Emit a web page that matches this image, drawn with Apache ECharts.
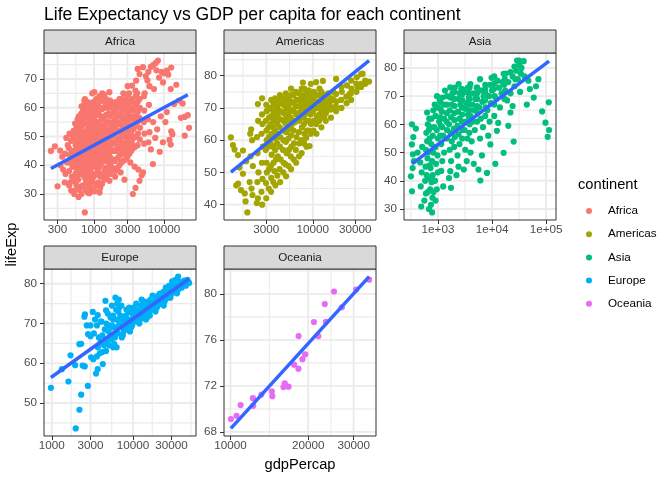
<!DOCTYPE html>
<html>
<head>
<meta charset="utf-8">
<script src="https://cdn.jsdelivr.net/npm/echarts@6/dist/echarts.min.js"></script>
<style>html,body{margin:0;padding:0;background:#fff}#chart{width:672px;height:480px}</style>
</head>
<body>
<div id="chart"></div>
<script>
var FONT = 'Liberation Sans';

var continents = ['Africa', 'Americas', 'Asia', 'Europe', 'Oceania'];
var colors = ['#F8766D', '#A3A500', '#00BF7D', '#00B0F6', '#E76BF3'];

// [gdpPercap, lifeExp]
var africa = [
  [241,45.0],[275,46.6],[327,45.1],[300,32.7],[360,38.5],[737,23.6],[855,30.3],[470,31.2],[440,33.0],[520,30.0],
  [3590,30.0],[3915,32.1],[2720,35.0],[4470,34.6],[5010,37.5],[6950,40.4],[8700,44.7],[4800,36.5],[4300,38.5],[3800,39.5],[3300,41.0],[2400,37.5],[2000,36.0],[1660,34.6],[1067,33.5],
  [21951,57.4],[19800,56.8],[17500,56.5],[22900,53.0],[19800,50.3],[12700,51.8],[13200,50.8],[12000,48.8],[9660,48.0],[12500,47.2],[14000,61.3],[16500,62.5],[18500,61.5],[11000,58.5],[9000,57.0],[7500,49.5],[6500,45.5],[8000,52.5],[7000,55.0],[10500,55.0],[6200,51.5],
  [8200,76.4],[7600,75.5],[7000,74.8],[6500,74.2],[7800,73.0],[12700,74.0],[11000,72.9],[10000,72.0],[11500,71.5],[9700,68.8],[12500,66.5],[6000,72.5],[5500,71.0],[5000,74.1],[4470,71.7],[5800,69.5],[6200,67.5],[7200,66.5],[8500,70.5],[9200,72.5],[4000,69.4],[3500,67.7],[5300,65.0],[15000,68.0],[4200,73.5],
  [1010,65.4],[1655,65.4],[725,62.5],[1400,64.5],[380,34],[330,40],[350,43],[600,29],[660,30],[1200,30.5],
  [390,37],[410,41],[385,44],[420,47],[400,49.5],
  [455,34],[440,38],[465,41],[450,43.5],[435,46],[470,48.5],[445,51],
  [480,36],[490,39.5],[485,42],[475,45],[495,50],
  [525,31],[505,34.5],[540,37],[515,40],[530,42],[500,44.5],[545,47],[520,49],[510,52],[535,54.5],
  [560,33],[570,36],[555,39],[565,41.5],[575,44],[560,46],[550,48.5],[570,51],[560,53.5],[580,56],
  [610,31.5],[590,35],[620,38],[600,40.5],[580,43],[630,45],[595,47.5],[615,50],[585,52.5],[625,55],[605,57],
  [650,32.5],[660,37],[640,40],[655,42],[665,44],[645,46.5],[660,48.5],[650,51],[640,53],[670,55.5],[655,58],[660,60.5],
  [690,33],[720,36],[700,39],[680,41.5],[730,43],[710,45.5],[690,47],[725,49],[700,51.5],[680,54],[715,56.5],[695,59],[720,61],
  [750,31.5],[760,35],[745,38],[755,41],[765,43.5],[740,45],[760,47.5],[750,50],[770,52],[745,54.5],[760,57],[750,60],[740,63],
  [810,30.5],[790,34],[820,37.5],[800,40],[780,42],[830,44],[805,46],[790,48],[815,50],[800,52.5],[825,55],[785,58],[810,62],
  [850,33],[860,36.5],[845,39],[855,41.5],[870,43],[840,45],[860,47],[850,49],[865,51.5],[845,54],[860,56.5],[855,59],[870,61.5],
  [900,32],[920,35],[890,38.5],[910,41],[930,43.5],[880,45.5],[905,47.5],[925,49.5],[895,52],[915,54.5],[935,57],[890,60],[940,65],
  [950,31],[960,34],[945,37],[955,40],[965,42.5],[940,44.5],[960,46.5],[950,48.5],[970,51],[945,53],[960,55.5],[955,58.5],[970,62],
  [1010,31],[990,36],[1020,39.5],[1000,42],[980,44],[1030,46.5],[1005,48.5],[990,51],[1015,53.5],[1000,56],[1025,59],[985,61.5],
  [1080,33],[1090,37],[1070,40.5],[1085,43],[1100,45.5],[1075,47.5],[1090,50],[1080,52.5],[1060,55],[1095,57.5],[1080,60],[1070,63],
  [1150,34],[1130,38],[1170,41],[1140,43.5],[1160,45],[1180,47],[1150,49.5],[1135,52],[1170,55],[1155,58],[1140,61],[1190,64],
  [1220,32],[1230,36],[1210,39.5],[1240,42],[1225,44.5],[1215,47],[1235,49],[1220,51.5],[1210,54],[1240,57],[1225,60],[1230,63],
  [1300,33.5],[1320,37],[1280,40.5],[1310,43],[1290,46],[1330,48],[1300,50.5],[1270,53],[1320,56],[1300,59.5],[1280,62.5],[1310,65],
  [1400,35],[1410,38],[1390,41.5],[1420,44],[1400,46.5],[1380,49],[1410,51.5],[1400,54],[1420,57],[1390,60],[1410,62],
  [1500,36],[1480,39],[1520,42.5],[1490,45],[1530,47.5],[1500,50],[1470,52.5],[1520,55],[1500,57.5],[1540,60],[1490,63],
  [1600,38],[1620,41],[1590,44],[1610,46.5],[1600,49],[1630,52],[1590,55],[1610,58],[1600,61],
  [1700,37],[1720,40],[1680,43],[1710,46],[1690,48.5],[1730,51],[1700,54],[1680,57],[1720,60],[1700,62.5],
  [1850,39],[1870,42],[1840,45],[1860,47.5],[1850,50],[1830,52.5],[1860,55],[1850,58],[1870,61],
  [2000,38],[1980,41.5],[2030,45],[2010,48],[1990,51],[2020,53.5],[2000,56],[1970,59],[2040,62],
  [2150,39],[2170,42.5],[2140,46],[2160,49],[2150,52],[2180,54.5],[2140,57],[2160,60],
  [2300,40],[2320,43.5],[2280,46.5],[2310,49.5],[2290,52],[2330,55],[2300,58],[2270,61],[2310,63],
  [2450,41],[2470,45],[2440,48],[2460,51],[2450,54],[2480,57],[2440,60],[2460,63],
  [2600,41.5],[2630,44],[2580,47],[2610,50],[2590,53],[2640,56],[2600,59],[2570,62],[2620,65],
  [2800,42],[2820,45],[2790,48],[2810,51],[2800,54],[2830,57],[2780,60],[2810,63],
  [3000,43],[3050,46],[2980,49],[3020,52],[2960,55],[3040,58],[3000,61],[2970,64.5],[3030,67.5],
  [3200,44],[3220,47],[3180,50],[3210,53],[3190,56],[3230,59],[3200,62],[3170,65],
  [3400,45],[3450,48],[3380,51],[3420,54],[3360,57],[3440,60],[3400,63],
  [3650,46],[3680,49.5],[3630,52.5],[3660,56],[3640,59],[3670,62],
  [3900,46.5],[3950,50],[3880,53.5],[3920,57],[3860,60.5],[3940,64],[3900,66],
  [4200,47],[4250,51],[4180,55],[4220,58.5],[4200,62],[4150,65],
  [4500,49],[4550,53],[4450,56.5],[4520,60],[4480,63],
  [5200,47.5],[5250,51],[5150,55],[5220,59],[5180,64],
  [6000,48],[5900,56],[6100,61]
];

var americas = [
  [1201.6,60.9],[1265,58.5],[1321,57.1],[1442,55.4],[1641,56.8],[1380,46.0],[1450,46.5],[1641,49.6],[1786,53.5],[1720,43.5],[1758,41.0],[1840,37.6],[1500,51.5],[1560,44.5],
  [1950,47],[2100,43],[2050,45],[2120,52],[2000,55],[2080,60],[2030,63.4],[1980,62],
  [2350,40.5],[2420,42],[2380,47],[2450,50],[2400,56],[2360,61],[2430,66],[2415,71.2],
  [2700,40],[2650,44],[2720,48],[2680,53],[2740,58],[2660,62],[2710,65],[2690,68],[2690,73],
  [3000,42],[2980,46.7],[3050,50],[3020,53],[2960,57],[3040,60],[3010,63],[2970,66],[3030,69],[3000,71],
  [3200,45],[3220,51],[3180,58],[3210,61],[3190,64],[3230,67],[3200,70],
  [3400,44],[3410,48.3],[3380,52],[3450,55.5],[3360,59],[3420,62],[3390,65],[3440,67.5],[3370,70],[3410,72.5],
  [3600,47],[3620,53],[3580,58],[3610,61.5],[3590,64],[3630,66.5],[3600,69],[3620,71.5],
  [3800,46],[3720,50.4],[3850,54],[3780,57],[3830,60.5],[3760,63],[3810,66],[3790,68.5],[3840,71],[3770,73],
  [4000,49],[4050,55],[3980,59],[4020,62],[4000,65],[4030,67.5],[3990,70],[4010,72.5],
  [4300,47],[4240,51],[4350,54],[4280,58],[4320,61],[4260,64],[4340,66.5],[4290,69],[4310,71.5],[4270,74],
  [4650,50],[4700,53],[4630,57],[4680,60],[4660,63],[4690,66],[4640,68.5],[4670,71],[4650,73],
  [5010,48.8],[4950,52.5],[5060,56],[4980,59.5],[5040,62.5],[4970,65],[5020,67.5],[5000,70],[5050,72],[4990,74.5],
  [5350,52],[5380,57],[5320,60.5],[5360,63.5],[5340,66],[5370,68.5],[5330,71],[5360,73],
  [5700,51],[5650,55],[5750,58],[5680,61.5],[5730,64.5],[5660,67],[5720,69.5],[5690,72],[5740,74],[5700,76],
  [6100,54],[6150,59],[6080,63],[6120,66],[6100,69],[6130,71.5],[6090,74],
  [6500,53],[6450,57],[6550,61],[6240,65.5],[6520,68],[6480,70.5],[6560,72.5],[6460,75],
  [7000,55],[7050,59],[6980,62.5],[7020,66],[7000,68.5],[7030,70.5],[6990,72.5],[7010,74.5],
  [7500,56],[7450,60],[7550,64],[7480,67],[7520,69.5],[7460,71.5],[7540,73.5],[7500,76],[7740,77.9],
  [8000,59],[8050,62],[7980,65],[8020,67.5],[8000,70],[8030,72],[7990,74],[8010,76],
  [8500,58],[8440,60.8],[8550,63],[8470,66],[8530,68.5],[8480,71],[8520,73],[8460,75],
  [9000,63],[9050,66],[8980,69],[9020,71.5],[9000,73.5],[9030,75.5],
  [9200,58.2],[9500,62],[9550,65],[9450,68],[9520,70.5],[9480,72.5],[9540,74.5],[9500,77.5],
  [10200,63],[10300,66],[10100,69],[10250,71],[10150,73],[10300,75],
  [11000,62],[10900,65],[11100,67.5],[10950,70],[11050,72],[11000,74],[10900,78],
  [11800,66],[11900,68],[11700,70],[11850,72],[11750,74],[11900,76],
  [12500,64],[12400,67],[12600,69],[12450,71],[12550,73],[12500,75],
  [13000,69.1],[14000,66],[14100,68.5],[13900,71],[14050,73.5],[13000,78.4],
  [13500,67.5],[13600,70],[13400,72],[13550,74],
  [15000,70],[15100,72],[14900,74.5],
  [16000,67],[15900,69.5],[15440,71.2],[16100,73],
  [17000,70],[17100,72.5],[16900,75],
  [18300,69],[18200,70.5],[18400,72],[18300,74.3],[18300,79],
  [21000,70],[20800,72.5],[21200,75],[21000,76.5],
  [24000,71.5],[23800,73.5],[25900,74.3],[24200,77],
  [27000,72.5],[26800,74.5],[27200,76],[27000,78.5],
  [31000,75],[32100,76.4],[30800,77.5],[31200,79.5],
  [35000,76.5],[34800,77.5],[35000,80.5],
  [39000,77.5],[38800,78.5],[36300,80.65],[42951.7,78.2]
];

var asia = [
  [331,36.3],[316,41.6],[340,44.5],[344,49.4],[330,52.9],[350,55.5],[330,60.0],[390,58.5],[360,47],[420,50],
  [491,30.9],[480,38],[500,43],[470,46.5],[510,52],
  [560,33],[600,35.5],[580,40],[620,42],[590,45],[640,48],[600,51],[630,54],[610,57],[650,60],[630,64.2],[680,58],
  [680,30],[650,36],[700,41],[830,36],[860,40],[700,45.5],[660,50],[700,55],[710,59],[690,62],
  [779,28.8],[740,31.5],[790,34],[720,37],[760,39.5],[800,42],[730,44.5],[780,47],[820,50],[750,53],[800,56],[850,59],[760,62],[820,65],[870,67],
  [900,33],[950,37],[880,40],[1000,43],[920,46],[980,49],[900,52],[1000,55],[950,58],[1050,61],[900,63],[1000,66],[1080,68.5],[960,70],
  [1100,56],[1120,59.5],[1090,62.5],[1110,65.5],[1100,68],
  [1250,38],[1150,43.5],[1200,47],[1300,50],[1150,53],[1250,56],[1200,59],[1300,62],[1180,64.5],[1280,67],[1200,69.5],[1350,72],
  [1450,55],[1470,58],[1440,61],[1460,64],[1450,67],[1470,70],
  [1740,37.5],[1600,41],[1690,43.4],[1750,47],[1650,51],[1800,54],[1700,57],[1600,60],[1750,62.5],[1650,65],[1800,67],[1700,69.5],[1690,73.1],[1850,71],
  [2000,52],[2050,55.5],[1980,58.5],[2020,61.5],[2000,64],[2030,66.5],[1990,69],[2010,71.5],[2050,73],
  [2200,42],[2400,45],[2300,49],[2500,53],[2400,56.5],[2300,59.5],[2500,62],[2350,64.5],[2600,67],[2400,69],[2500,71],[2410,74.3],[2700,72.5],
  [2800,55],[2850,58],[2780,61],[2820,63.5],[2800,66],[2830,68.5],[2790,70.5],[2820,72.5],
  [3000,44],[3400,47],[3200,51],[3500,55],[3100,58],[3300,61],[3600,63.5],[3200,65.5],[3400,67.5],[3700,69.5],[3300,71.5],[3600,73],
  [3800,57],[3850,60],[3780,62],[3820,65],[3800,67],[3830,69],[3790,71],[3840,73],
  [4000,50],[4600,46],[4200,54],[4800,58],[4400,61],[4000,63],[4700,65],[4300,67],[4900,69],[4500,71],[3970,74.3],[5200,73],
  [5300,61],[5350,64],[5280,66.5],[5320,69],[5300,71],[5330,73],
  [6080,40.1],[5600,44],[6500,49],[6000,55],[6800,59],[6200,62],[5800,66],[6600,68],[7000,70],[6300,72],[7500,74],[6000,76],
  [7500,63],[7600,66],[7400,68.5],[7550,71],[7450,72.5],
  [8070,42.8],[9310,52.9],[8500,56],[9000,61],[8200,65],[9500,67.5],[8800,70],[10000,72],[9200,74],[9800,76.5],
  [11000,67],[11200,70],[10800,72.5],[11100,74.5],[11000,77],
  [11500,46],[12300,57.7],[13000,60.5],[11000,63],[14000,66],[12000,69],[15000,71],[13500,73],[16400,77.9],[12500,75.5],[15500,75],
  [17000,69],[17500,72],[16800,74],[17200,76],[18000,78],
  [16400,49.9],[25100,53.9],[20000,59.5],[21900,64.2],[24000,66.5],[19000,68.5],[22000,71],[26000,73.5],[20000,75],[24000,77],[28000,79],[29000,82.6],[31656,82.6],[26000,80.5],[22000,78.5],
  [30000,76],[34000,78],[27000,76],[32000,81],
  [38500,82.4],[35000,80],[40000,77],[47000,75.5],[59100,69.5],[50000,72.5],[33000,71.5],[44000,67],
  [84400,64.6],[97200,60.6],[112000,67.8],[113523,58.0],[107000,55.6],[72000,76],[65000,73.5]
];

var europe = [
  [973.5,53.8],[1330,58.5],[1700,62.0],[1600,55.4],[1940,59.5],[1969,43.6],[2190,48.3],[2300,52.1],[2780,54.3],[2190,64.8],[2300,64.9],[2520,71.7],[2560,72.3],[3200,72.9],[3680,72.1],[4000,70.5],[4660,73.3],[4580,75.7],[6080,76.5],[6700,76.0],[6400,75.0],
  [2400,59.4],[2550,59.2],[3050,61.5],[3250,61.0],[3600,61.7],[3510,57.4],[3680,58.5],[4250,59.8],[3900,62.5],[4660,63.1],[5100,64.5],[5900,64.8],[6300,64.0],[3000,66.8],[3300,67.5],[3600,69.5],[3400,71.0],[4200,67.0],[2800,67.3],
  [4400,64.5],[4000,65.2],[3700,64],[4200,62.8],[5400,66],[3800,66.5],[4500,68.5],[5000,69.5],[6200,73.5],[5700,72],[4100,70.5],[5500,74.5],[6800,74],[3000,69.5],[2700,69.5],
  [4800,65.5],[5200,66.5],[5000,68],[5500,69.5],[4700,70],[5300,71.5],[4900,72.5],
  [5700,64],[5750,67],[5650,69],[5720,71],
  [6000,66.5],[6500,67.5],[6200,69],[6800,70],[6400,71],[7000,72],[6600,73],[7200,74.5],
  [7300,66.5],[7700,68],[7400,69.5],[7900,71],[7200,70.5],[8300,73.5],
  [7500,67],[8000,68.5],[8500,69.5],[7800,70.5],[9000,71],[8200,72],[8700,73],[7600,71.5],[9000,74],
  [9200,68],[9800,69.5],[10300,70.5],[10800,72],[9400,73],[10500,74],
  [9500,69],[10000,70.3],[10500,71.5],[9800,72.5],[11000,73],[10200,74],[11000,75],[9600,71],
  [11500,70.5],[12300,71],[13200,71.5],[11800,72.5],[13000,73.8],[12600,74.5],[14000,75.5],[11200,71.8],
  [12000,70],[12500,71.5],[13000,72.5],[12200,73.5],[14000,74],[13500,75.2],[12800,76],
  [14500,71],[15200,72.5],[16200,72],[17200,73.5],[15800,75.5],[16800,74.8],[14800,73.5],[17800,76],
  [15000,71.5],[16000,73],[17000,74],[15500,74.8],[18000,75],[16500,76],[17500,77],
  [18500,73.5],[19800,74],[20800,74.8],[21800,75],[22800,76],[23500,76.8],[19200,75],[21500,77.5],[24000,78],
  [19000,73],[20000,74.5],[21000,75.5],[22000,76.3],[20500,77],[23000,77.5],[19500,76],
  [24500,75.5],[25500,77.2],[26500,76.5],[27500,77],[28500,77.5],[29500,78.5],[26000,78.5],[28000,79.5],[30000,79],
  [24000,74.5],[25000,76],[26000,77],[27000,78],[28000,78.5],[25500,79],[29000,76.5],
  [30000,77.5],[32000,78.5],[34000,79.2],[36181,81.8],[33000,80.3],[38000,80.5],[31000,79.8],[35000,77.6],
  [31000,78],[33000,78.8],[35000,79.5],[37000,80.2],[39000,79.5],[41000,80.5],[43000,80.8],[46000,80],[36000,78.5],[33500,81],[30500,80.6],
  [42000,80],[45000,79.5],[49357,80.2],[40000,79],[47000,81]
];

var oceania = [
  [10039.6,69.12],[10949.6,70.33],[12217.2,70.93],[14526.1,71.1],[16788.6,71.93],[18334.2,73.49],
  [19477.0,74.74],[21888.9,76.32],[23424.8,77.56],[26997.9,78.83],[30687.8,80.37],[34435.4,81.235],
  [10556.6,69.39],[12247.4,70.26],[13175.7,71.24],[14463.9,71.52],[16046.0,71.89],[16233.7,72.22],
  [17632.4,73.84],[19007.2,74.32],[18363.3,76.33],[21050.4,77.55],[23189.8,79.11],[25185.0,80.204]
];

// linear-fit lines (ends)
var africaFit = [[241.2,38.9],[21951.2,64.5]];
var americasFit = [[1201.6,50.1],[42951.7,84.7]];
var asiaFit = [[331,46.0],[113523,82.4]];
var europeFit = [[973.5,56.4],[49357,81.25]];
var oceaniaFit = [[10039.6,68.3],[34435.4,81.5]];

// tick breaks and labels
var africaXBreaks = [300, 1000, 3000, 10000];
var africaXLabels = ['300', '1000', '3000', '10000'];
var americasXBreaks = [3000, 10000, 30000];
var americasXLabels = ['3000', '10000', '30000'];
var asiaXBreaks = [1000, 10000, 100000];
var asiaXLabels = ['1e+03', '1e+04', '1e+05'];
var europeXBreaks = [1000, 3000, 10000, 30000];
var europeXLabels = ['1000', '3000', '10000', '30000'];
var oceaniaXBreaks = [10000, 20000, 30000];
var oceaniaXLabels = ['10000', '20000', '30000'];

var africaYBreaks = [30, 40, 50, 60, 70];
var americasYBreaks = [40, 50, 60, 70, 80];
var asiaYBreaks = [30, 40, 50, 60, 70, 80];
var europeYBreaks = [50, 60, 70, 80];
var oceaniaYBreaks = [68, 72, 76, 80];

var panels = [
  { name: 'Africa', data: africa, fit: africaFit, xb: africaXBreaks, xl: africaXLabels, yb: africaYBreaks, left: 44, top: 53 },
  { name: 'Americas', data: americas, fit: americasFit, xb: americasXBreaks, xl: americasXLabels, yb: americasYBreaks, left: 224, top: 53 },
  { name: 'Asia', data: asia, fit: asiaFit, xb: asiaXBreaks, xl: asiaXLabels, yb: asiaYBreaks, left: 404, top: 53 },
  { name: 'Europe', data: europe, fit: europeFit, xb: europeXBreaks, xl: europeXLabels, yb: europeYBreaks, left: 44, top: 269 },
  { name: 'Oceania', data: oceania, fit: oceaniaFit, xb: oceaniaXBreaks, xl: oceaniaXLabels, yb: oceaniaYBreaks, left: 224, top: 269 }
];
var PW = 152, PH = 167, STRIP = 23;

function lg(v) { return Math.log10(v); }

function limits(vals) {
  var lo = Math.min.apply(null, vals), hi = Math.max.apply(null, vals);
  var e = (hi - lo) * 0.05;
  return [lo - e, hi + e];
}

// midpoints between major breaks (ggplot-style minor grid)
function minors(b, lim) {
  var bd = b[1] - b[0];
  var ext = b.slice();
  if (ext[0] > lim[0]) ext.unshift(ext[0] - bd);
  if (ext[ext.length - 1] < lim[1]) ext.push(ext[ext.length - 1] + bd);
  var out = [];
  for (var i = 0; i < ext.length - 1; i++) {
    var m = (ext[i] + ext[i + 1]) / 2;
    if (m >= lim[0] && m <= lim[1]) out.push(m);
  }
  return out;
}

var grids = [], xAxes = [], yAxes = [], series = [], graphics = [];
var gridLine = '#EBEBEB';

// one straight grid line across a panel, drawn as a plain line series under the points
function gridSeries(i, a, b, width) {
  return { type: 'line', xAxisIndex: i, yAxisIndex: i, data: [a, b], z: 1, silent: true,
    showSymbol: false, symbol: 'none', animation: false, emphasis: { disabled: true },
    lineStyle: { color: gridLine, width: width, type: 'solid' } };
}

panels.forEach(function (p, i) {
  var pts = p.data.map(function (d) { return [lg(d[0]), d[1]]; });
  var fitPts = p.fit.map(function (d) { return [lg(d[0]), d[1]]; });
  var all = pts.concat(fitPts);
  var xl = limits(all.map(function (d) { return d[0]; }));
  var yl = limits(all.map(function (d) { return d[1]; }));
  var xMaj = p.xb.map(lg);
  var labels = p.xl;

  grids.push({ left: p.left, top: p.top, width: PW, height: PH, show: true, z: 4,
    backgroundColor: 'transparent', borderColor: '#333333', borderWidth: 1, containLabel: false });

  xAxes.push({
    type: 'value', gridIndex: i, position: 'bottom', min: xl[0], max: xl[1],
    axisLine: { show: false }, splitLine: { show: false },
    axisTick: { show: true, length: 4, lineStyle: { color: '#333333', width: 1 }, customValues: xMaj },
    axisLabel: { show: true, margin: 4, color: '#4D4D4D', fontSize: 11.7, fontFamily: FONT,
      customValues: xMaj,
      formatter: function (v) {
        for (var k = 0; k < xMaj.length; k++) if (Math.abs(xMaj[k] - v) < 1e-6) return labels[k];
        return '';
      } }
  });
  yAxes.push({
    type: 'value', gridIndex: i, position: 'left', min: yl[0], max: yl[1],
    axisLine: { show: false }, splitLine: { show: false },
    axisTick: { show: true, length: 4, lineStyle: { color: '#333333', width: 1 }, customValues: p.yb },
    axisLabel: { show: true, margin: 7, color: '#4D4D4D', fontSize: 11.7, fontFamily: FONT, customValues: p.yb }
  });

  minors(xMaj, xl).forEach(function (v) { series.push(gridSeries(i, [v, yl[0]], [v, yl[1]], 1.1)); });
  minors(p.yb, yl).forEach(function (v) { series.push(gridSeries(i, [xl[0], v], [xl[1], v], 1.1)); });
  xMaj.forEach(function (v) { series.push(gridSeries(i, [v, yl[0]], [v, yl[1]], 1.9)); });
  p.yb.forEach(function (v) { series.push(gridSeries(i, [xl[0], v], [xl[1], v], 1.9)); });

  series.push({
    name: p.name, type: 'scatter', xAxisIndex: i, yAxisIndex: i,
    data: pts, symbol: 'circle', symbolSize: 6.2, z: 2,
    itemStyle: { color: colors[i], opacity: 1 }, emphasis: { disabled: true }, silent: true
  });
  series.push({
    name: 'fit ' + p.name, type: 'line', xAxisIndex: i, yAxisIndex: i,
    data: fitPts, showSymbol: false, symbol: 'none', z: 3,
    lineStyle: { color: '#3366FF', width: 3.5 }, emphasis: { disabled: true }, silent: true
  });

  var sTop = p.top - STRIP;
  graphics.push({ type: 'rect', shape: { x: p.left, y: sTop, width: PW, height: STRIP },
    style: { fill: '#D9D9D9', stroke: '#333333', lineWidth: 1 }, z: 10, silent: true });
  graphics.push({ type: 'text', x: p.left + PW / 2, y: sTop + STRIP / 2 + 0.5, z: 11,
    style: { text: p.name, fill: '#1A1A1A', fontSize: 11.7, fontFamily: FONT, textAlign: 'center', textVerticalAlign: 'middle' } });
});

graphics.push({ type: 'text', x: 300, y: 465,
  style: { text: 'gdpPercap', fill: '#000', fontSize: 14.7, fontFamily: FONT, textAlign: 'center', textVerticalAlign: 'middle' } });
graphics.push({ type: 'text', x: 12, y: 244.5, rotation: Math.PI / 2,
  style: { text: 'lifeExp', fill: '#000', fontSize: 14.7, fontFamily: FONT, textAlign: 'center', textVerticalAlign: 'middle' } });
graphics.push({ type: 'text', x: 578, y: 185,
  style: { text: 'continent', fill: '#000', fontSize: 14.7, fontFamily: FONT, textAlign: 'left', textVerticalAlign: 'middle' } });

var option = {
  animation: false,
  backgroundColor: '#fff',
  title: { text: 'Life Expectancy vs GDP per capita for each continent', left: 44, top: 6, padding: 0,
    textStyle: { fontSize: 17.6, fontWeight: 'normal', color: '#000', fontFamily: FONT } },
  legend: {
    data: continents, orient: 'vertical', left: 586, top: 202.5, padding: 0,
    itemWidth: 6, itemHeight: 6, itemGap: 6.2, icon: 'circle',
    textStyle: { fontSize: 11.7, color: '#000', fontFamily: FONT, lineHeight: 17, padding: [0, 0, 0, 11] },
    selectedMode: false
  },
  grid: grids,
  xAxis: xAxes,
  yAxis: yAxes,
  series: series,
  graphic: graphics
};

var myChart = echarts.init(document.getElementById('chart'));
myChart.setOption(option);
</script>
</body>
</html>
